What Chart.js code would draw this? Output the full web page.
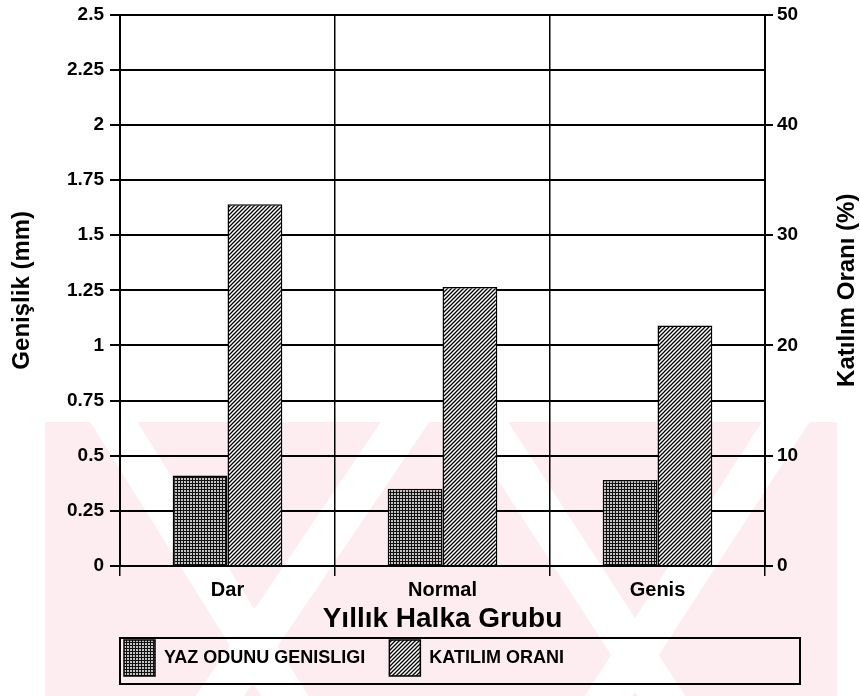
<!DOCTYPE html>
<html>
<head>
<meta charset="utf-8">
<script src="https://cdn.jsdelivr.net/npm/chart.js@4/dist/chart.umd.min.js"></script>
<style>
  html, body { margin: 0; padding: 0; background: #fff; }
  #wrap { width: 860px; height: 696px; }
</style>
</head>
<body>
<div id="wrap"><canvas id="chart" width="860" height="696"></canvas></div>
<script>
// veri
const groups = ["Dar", "Normal", "Genis"];
const yazOdunu = [0.41, 0.35, 0.39];      // mm, sol eksen
const katilimOrani = [32.8, 25.3, 21.8];  // %, sag eksen
const leftTicks = [0, 0.25, 0.5, 0.75, 1, 1.25, 1.5, 1.75, 2, 2.25, 2.5];
const rightTicks = [0, 10, 20, 30, 40, 50];

const FONT = "'Liberation Sans', Arial, sans-serif";

// --- desenler ---
function gridPattern() {
  const c = document.createElement("canvas");
  c.width = 3; c.height = 3;
  const g = c.getContext("2d");
  g.fillStyle = "#c4c4c4";
  g.fillRect(0, 0, 3, 3);
  g.fillStyle = "#111";
  g.fillRect(0, 0, 3, 1);
  g.fillRect(0, 0, 1, 3);
  return g.createPattern(c, "repeat");
}
function hatchPattern() {
  const s = 4;
  const c = document.createElement("canvas");
  c.width = s; c.height = s;
  const g = c.getContext("2d");
  g.fillStyle = "#fff";
  g.fillRect(0, 0, s, s);
  g.strokeStyle = "#000";
  g.lineWidth = 1.3;
  g.beginPath();
  g.moveTo(-1, s + 1); g.lineTo(s + 1, -1);
  g.moveTo(-1, 1); g.lineTo(1, -1);
  g.moveTo(s - 1, s + 1); g.lineTo(s + 1, s - 1);
  g.stroke();
  return g.createPattern(c, "repeat");
}

// arka plan + soluk filigran
const background = {
  id: "background",
  beforeDraw(chart) {
    const ctx = chart.ctx;
    ctx.save();
    ctx.fillStyle = "#fff";
    ctx.fillRect(0, 0, chart.width, chart.height);
    ctx.beginPath();
    ctx.rect(45, 422, 792, chart.height - 422);
    ctx.clip();
    ctx.fillStyle = "#fdedf0";
    ctx.fillRect(0, 0, chart.width, chart.height);
    ctx.strokeStyle = "#fff";
    ctx.lineWidth = 40;
    ctx.beginPath();
    ctx.moveTo(100, 400); ctx.lineTo(300, 720);
    ctx.moveTo(420, 400); ctx.lineTo(190, 740);
    ctx.moveTo(470, 400); ctx.lineTo(690, 740);
    ctx.moveTo(800, 400); ctx.lineTo(580, 740);
    ctx.stroke();
    ctx.restore();
  }
};

// sag eksen basligi (alttan yukari) + lejant cercevesi
const extras = {
  id: "extras",
  afterDraw(chart) {
    const ctx = chart.ctx;
    const a = chart.chartArea;
    ctx.save();
    ctx.fillStyle = "#000";
    ctx.font = "bold 24px " + FONT;
    ctx.textAlign = "center";
    ctx.textBaseline = "middle";
    ctx.translate(847, (a.top + a.bottom) / 2);
    ctx.rotate(-Math.PI / 2);
    ctx.fillText("Katılım Oranı (%)", 0, 0);
    ctx.restore();

    const lg = chart.legend;
    ctx.save();
    ctx.strokeStyle = "#000";
    ctx.lineWidth = 2;
    ctx.strokeRect(a.left, lg.top + 2, 680, 46);
    ctx.restore();
  }
};

new Chart(document.getElementById("chart"), {
  type: "bar",
  data: {
    labels: groups,
    datasets: [
      {
        label: "YAZ ODUNU GENISLIGI",
        data: yazOdunu,
        yAxisID: "y",
        backgroundColor: gridPattern(),
        borderColor: "#000",
        borderWidth: 1.5,
        categoryPercentage: 0.51,
        barPercentage: 1.0
      },
      {
        label: "KATILIM ORANI",
        data: katilimOrani,
        yAxisID: "y2",
        backgroundColor: hatchPattern(),
        borderColor: "#000",
        borderWidth: 1.5,
        categoryPercentage: 0.51,
        barPercentage: 1.0
      }
    ]
  },
  options: {
    responsive: false,
    animation: false,
    layout: { padding: { top: 8, bottom: 10, left: 0, right: 0 } },
    plugins: {
      tooltip: { enabled: false },
      legend: {
        position: "bottom",
        align: "start",
        fullSize: false,
        labels: {
          color: "#000",
          font: { family: FONT, size: 18, weight: "bold" },
          boxWidth: 31,
          boxHeight: 36,
          padding: 4,
          generateLabels(chart) {
            const items = Chart.defaults.plugins.legend.labels.generateLabels(chart);
            items[0].text = items[0].text + "    ";
            return items;
          }
        }
      }
    },
    scales: {
      x: {
        offset: true,
        grid: {
          offset: true,
          color: "#000",
          lineWidth: 1.5,
          tickLength: 10,
          tickColor: "#000"
        },
        border: { color: "#000", width: 2 },
        ticks: { color: "#000", font: { family: FONT, size: 20, weight: "bold" }, padding: 2 },
        title: {
          display: true,
          text: "Yıllık Halka Grubu",
          color: "#000",
          font: { family: FONT, size: 28, weight: "bold" },
          padding: { top: 0, bottom: 0 }
        },
        afterFit(scale) { scale.height = 70; }
      },
      y: {
        position: "left",
        min: 0,
        max: 2.5,
        afterBuildTicks(scale) { scale.ticks = leftTicks.map(v => ({ value: v })); },
        grid: { color: "#000", lineWidth: 2, tickLength: 10, tickColor: "#000" },
        border: { color: "#000", width: 2 },
        ticks: {
          color: "#000",
          font: { family: FONT, size: 19, weight: "bold", lineHeight: 0.9 },
          padding: 6,
          callback: v => String(v)
        },
        title: {
          display: true,
          text: "Genişlik (mm)",
          color: "#000",
          font: { family: FONT, size: 24, weight: "bold" },
          padding: { top: 8, bottom: 4 }
        },
        afterFit(scale) { scale.width = 120; }
      },
      y2: {
        position: "right",
        min: 0,
        max: 50,
        afterBuildTicks(scale) { scale.ticks = rightTicks.map(v => ({ value: v })); },
        grid: { drawOnChartArea: false, color: "#000", lineWidth: 2, tickLength: 8, tickColor: "#000" },
        border: { color: "#000", width: 2 },
        ticks: {
          color: "#000",
          font: { family: FONT, size: 19, weight: "bold", lineHeight: 0.9 },
          padding: 4,
          callback: v => String(v)
        },
        afterFit(scale) { scale.width = 95; }
      }
    }
  },
  plugins: [background, extras]
});
</script>
</body>
</html>
